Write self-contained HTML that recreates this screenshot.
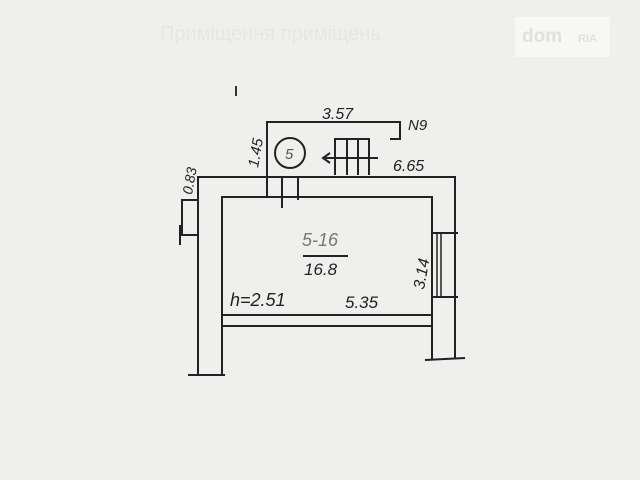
<!DOCTYPE html>
<html><head><style>
body{margin:0;background:#efefed;width:640px;height:480px;overflow:hidden;}
svg{display:block}
text{font-family:"Liberation Sans",sans-serif;font-style:italic;fill:#222;}
</style></head><body>
<svg width="640" height="480" viewBox="0 0 640 480" xmlns="http://www.w3.org/2000/svg">
<rect width="640" height="480" fill="#efefed"/>
<text x="160" y="40" font-size="20" style="fill:#e6e6e4;font-style:normal" font-family="Liberation Serif">Приміщення приміщень</text>
<rect x="515" y="17" width="95" height="40" fill="#f7f7f6"/>
<text x="522" y="42" font-size="19" style="fill:#e0e0de;font-style:normal;font-weight:bold">dom</text>
<text x="578" y="42" font-size="11" style="fill:#e0e0de;font-style:normal;font-weight:bold">RIA</text>
<g stroke="#222" stroke-width="2" fill="none">
<polyline points="198,375 198,177 455,177 455,358"/>
<polyline points="222,375 222,197 432,197 432,360"/>
<line x1="222" y1="315" x2="432" y2="315"/>
<line x1="222" y1="326" x2="432" y2="326"/>
<polyline points="198,200 182,200 182,235 198,235"/>
<line x1="180" y1="225" x2="180" y2="245"/>
<line x1="188" y1="375" x2="225" y2="375"/>
<line x1="425" y1="360" x2="465" y2="358"/>
<polyline points="267,197 267,122 400,122 400,139 390,139"/>
<line x1="298" y1="177" x2="298" y2="200"/>
<line x1="282" y1="177" x2="282" y2="208"/>
<circle cx="290" cy="153" r="15"/>
<polyline points="335,175 335,139 369,139 369,175"/>
<line x1="347" y1="139" x2="347" y2="175"/>
<line x1="358" y1="139" x2="358" y2="175"/>
<line x1="325" y1="158" x2="378" y2="158"/>
<polyline points="330,153 323,158 330,163"/>
<line x1="432" y1="233" x2="458" y2="233"/>
<line x1="432" y1="297" x2="458" y2="297"/>
<line x1="437" y1="233" x2="437" y2="297" stroke-width="1.5"/>
<line x1="441" y1="233" x2="441" y2="297" stroke-width="1.5"/>
<line x1="303" y1="256" x2="348" y2="256"/>
</g>
<line x1="236" y1="86" x2="236" y2="96" stroke="#333" stroke-width="2"/>
<text x="285" y="159" font-size="15" style="fill:#555">5</text>
<text x="322" y="119" font-size="16">3.57</text>
<text x="408" y="130" font-size="15">N9</text>
<text x="393" y="171" font-size="16">6.65</text>
<text x="0" y="0" font-size="15" transform="translate(258,168) rotate(-80)">1.45</text>
<text x="0" y="0" font-size="14" transform="translate(192,195) rotate(-80)">0.83</text>
<text x="302" y="246" font-size="18" style="fill:#777">5-16</text>
<text x="304" y="275" font-size="17">16.8</text>
<text x="0" y="0" font-size="16" transform="translate(424,290) rotate(-80)">3.14</text>
<text x="230" y="306" font-size="18">h=2.51</text>
<text x="345" y="308" font-size="17">5.35</text>
</svg>
</body></html>
